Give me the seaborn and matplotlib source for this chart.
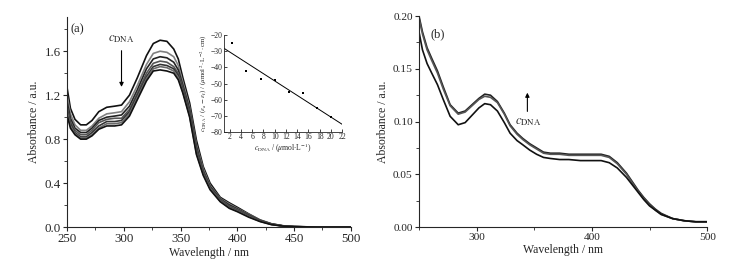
import matplotlib
matplotlib.use('Agg')
import matplotlib.pyplot as plt
import numpy as np
import pandas as pd
import seaborn as sns
from matplotlib.ticker import MultipleLocator

# (a) absorption spectra, titration with DNA
wl_a = [250, 253, 257, 262, 267, 272, 278, 285, 292, 298, 305, 312, 320, 326, 332,
        338, 344, 348, 352, 358, 364, 370, 376, 385, 393, 400, 410, 420, 430, 440, 450, 470, 500]
abs_a = {
    'c1': [1.27, 1.08, 0.98, 0.93, 0.93, 0.97, 1.05, 1.09, 1.10, 1.11, 1.20, 1.36, 1.56, 1.67, 1.70,
           1.69, 1.62, 1.53, 1.36, 1.13, 0.79, 0.55, 0.40, 0.27, 0.22, 0.18, 0.12, 0.065, 0.030, 0.012, 0.004, 0.0, 0.0],
    'c2': [1.20, 1.03, 0.93, 0.88, 0.88, 0.92, 0.99, 1.03, 1.04, 1.05, 1.14, 1.29, 1.48, 1.58, 1.60,
           1.59, 1.55, 1.47, 1.32, 1.09, 0.75, 0.53, 0.38, 0.26, 0.21, 0.17, 0.115, 0.062, 0.029, 0.011, 0.004, 0.0, 0.0],
    'c3': [1.14, 0.99, 0.90, 0.86, 0.86, 0.90, 0.97, 1.00, 1.01, 1.02, 1.10, 1.25, 1.44, 1.53, 1.55,
           1.54, 1.50, 1.43, 1.29, 1.07, 0.73, 0.51, 0.37, 0.255, 0.20, 0.165, 0.11, 0.060, 0.028, 0.011, 0.004, 0.0, 0.0],
    'c4': [1.10, 0.96, 0.88, 0.84, 0.84, 0.88, 0.95, 0.98, 0.99, 0.99, 1.07, 1.22, 1.40, 1.49, 1.51,
           1.50, 1.46, 1.40, 1.27, 1.05, 0.71, 0.50, 0.36, 0.25, 0.19, 0.16, 0.105, 0.057, 0.026, 0.010, 0.004, 0.0, 0.0],
    'c5': [1.07, 0.94, 0.86, 0.82, 0.82, 0.86, 0.92, 0.96, 0.96, 0.97, 1.05, 1.20, 1.37, 1.46, 1.48,
           1.47, 1.44, 1.38, 1.25, 1.03, 0.69, 0.49, 0.355, 0.24, 0.18, 0.15, 0.10, 0.055, 0.025, 0.010, 0.003, 0.0, 0.0],
    'c6': [1.05, 0.92, 0.85, 0.81, 0.81, 0.84, 0.90, 0.94, 0.94, 0.95, 1.03, 1.18, 1.35, 1.44, 1.46,
           1.45, 1.42, 1.36, 1.23, 1.01, 0.67, 0.48, 0.35, 0.235, 0.175, 0.145, 0.095, 0.052, 0.023, 0.009, 0.003, 0.0, 0.0],
    'c7': [1.02, 0.90, 0.84, 0.80, 0.80, 0.83, 0.89, 0.92, 0.92, 0.93, 1.01, 1.16, 1.33, 1.42, 1.43,
           1.42, 1.40, 1.34, 1.22, 1.00, 0.66, 0.47, 0.34, 0.23, 0.17, 0.14, 0.09, 0.050, 0.022, 0.009, 0.003, 0.0, 0.0],
}
colors_a = ['#111111', '#808080', '#222222', '#555555', '#333333', '#6a6a6a', '#111111']

# (b)
wl_b = [250, 253, 257, 261, 266, 271, 277, 284, 290, 296, 302, 307, 312, 318, 324, 329, 335,
        340, 346, 352, 358, 364, 372, 380, 390, 400, 408, 415, 422, 430, 435, 440, 445, 450,
        455, 460, 470, 480, 490, 500]
abs_b = {
    'b1': [0.200, 0.185, 0.170, 0.160, 0.148, 0.133, 0.116, 0.108, 0.110, 0.116, 0.122, 0.126, 0.125, 0.119,
           0.108, 0.097, 0.089, 0.084, 0.079, 0.075, 0.071, 0.070, 0.070, 0.069, 0.069, 0.069, 0.069, 0.067,
           0.061, 0.051, 0.043, 0.035, 0.028, 0.022, 0.017, 0.013, 0.008, 0.006, 0.005, 0.005],
    'b2': [0.198, 0.183, 0.168, 0.158, 0.146, 0.131, 0.115, 0.107, 0.109, 0.115, 0.121, 0.124, 0.123, 0.118,
           0.107, 0.096, 0.088, 0.083, 0.078, 0.074, 0.070, 0.069, 0.069, 0.068, 0.068, 0.068, 0.068, 0.066,
           0.060, 0.050, 0.042, 0.034, 0.027, 0.021, 0.016, 0.012, 0.008, 0.006, 0.005, 0.005],
    'b3': [0.185, 0.168, 0.155, 0.146, 0.135, 0.121, 0.105, 0.097, 0.099, 0.106, 0.113, 0.117, 0.116, 0.110,
           0.099, 0.089, 0.082, 0.078, 0.073, 0.069, 0.066, 0.065, 0.064, 0.064, 0.063, 0.063, 0.063, 0.061,
           0.056, 0.047, 0.040, 0.033, 0.026, 0.020, 0.016, 0.012, 0.008, 0.006, 0.005, 0.005],
}
colors_b = ['#222222', '#555555', '#111111']

# inset
c_dna = [2.5, 5, 7.5, 10, 12.5, 15, 17.5, 20]
ratio = [-25, -42, -47, -48, -55, -56, -65, -71]

sns.set_style('ticks')
plt.rcParams['font.family'] = ['Liberation Serif', 'DejaVu Serif']
plt.rcParams['mathtext.fontset'] = 'stix'

df_a = pd.DataFrame([(w, v, k) for k, vals in abs_a.items() for w, v in zip(wl_a, vals)],
                    columns=['wl', 'A', 'curve'])
df_b = pd.DataFrame([(w, v, k) for k, vals in abs_b.items() for w, v in zip(wl_b, vals)],
                    columns=['wl', 'A', 'curve'])

fig = plt.figure(figsize=(7.39, 2.64), dpi=100)
ax1 = fig.add_axes([0.0907, 0.140, 0.384, 0.795])
ax2 = fig.add_axes([0.567, 0.140, 0.390, 0.799])

sns.lineplot(data=df_a, x='wl', y='A', hue='curve', palette=colors_a, legend=False,
             estimator=None, linewidth=1.2, ax=ax1)
sns.lineplot(data=df_b, x='wl', y='A', hue='curve', palette=colors_b, legend=False,
             estimator=None, linewidth=1.2, ax=ax2)

for ax in (ax1, ax2):
    sns.despine(ax=ax)
    ax.set_xlim(250, 500)
    ax.set_xlabel('Wavelength / nm', fontsize=8.5, labelpad=1)
    ax.set_ylabel('Absorbance / a.u.', fontsize=8.5, labelpad=3)
    ax.tick_params(which='major', direction='out', length=3, width=0.8, pad=1.5)
    ax.tick_params(which='minor', direction='out', length=2, width=0.6)
    for s in ax.spines.values():
        s.set_linewidth(0.8)

ax1.set_ylim(0, 1.91)
ax1.xaxis.set_major_locator(MultipleLocator(50))
ax1.xaxis.set_minor_locator(MultipleLocator(25))
ax1.yaxis.set_major_locator(MultipleLocator(0.4))
ax1.yaxis.set_minor_locator(MultipleLocator(0.2))
ax1.set_yticks([0, 0.4, 0.8, 1.2, 1.6])
ax1.set_yticklabels(['0.0', '0.4', '0.8', '1.2', '1.6'])
ax1.tick_params(labelsize=9.3)
ax1.text(0.012, 0.93, '(a)', transform=ax1.transAxes, fontsize=9)
ax1.annotate('', xy=(298, 1.25), xytext=(298, 1.63),
             arrowprops=dict(arrowstyle='-|>', color='black', lw=0.8, mutation_scale=6))
ax1.text(298, 1.66, r'$c_{\rm DNA}$', ha='center', va='bottom', fontsize=9)

ax2.set_ylim(0, 0.2)
ax2.xaxis.set_major_locator(MultipleLocator(100))
ax2.xaxis.set_minor_locator(MultipleLocator(50))
ax2.yaxis.set_major_locator(MultipleLocator(0.05))
ax2.yaxis.set_minor_locator(MultipleLocator(0.025))
ax2.set_yticks([0, 0.05, 0.10, 0.15, 0.20])
ax2.set_yticklabels(['0.00', '0.05', '0.10', '0.15', '0.20'])
ax2.tick_params(labelsize=8.2)
ax2.text(0.04, 0.9, '(b)', transform=ax2.transAxes, fontsize=9)
ax2.annotate('', xy=(344, 0.130), xytext=(344, 0.107),
             arrowprops=dict(arrowstyle='-|>', color='black', lw=0.8, mutation_scale=6))
ax2.text(345, 0.105, r'$c_{\rm DNA}$', ha='center', va='top', fontsize=9)

# inset
axi = fig.add_axes([0.303, 0.500, 0.160, 0.367])
slope, icpt = np.polyfit(c_dna, ratio, 1)
fit_x = [1, 22]
sns.lineplot(x=fit_x, y=[slope * v + icpt for v in fit_x], color='black', lw=0.7, ax=axi)
sns.scatterplot(x=c_dna, y=ratio, color='black', marker='s', s=2.5, linewidth=0, ax=axi)
sns.despine(ax=axi)
axi.set_xlim(1, 22)
axi.set_ylim(-80, -20)
axi.set_xticks(range(2, 23, 2))
axi.set_yticks(range(-80, -19, 10))
axi.tick_params(labelsize=5.5, direction='in', length=2, width=0.6, pad=1)
for s in axi.spines.values():
    s.set_linewidth(0.6)
axi.set_xlabel(r'$c_{\rm DNA}$ / ($\mu$mol$\cdot$L$^{-1}$)', fontsize=5.5, labelpad=0.5)
axi.set_ylabel(r'$c_{\rm DNA}$ / ($\varepsilon_{\rm a}-\varepsilon_{\rm f}$) / ($\mu$mol$^{2}\cdot$L$^{-2}\cdot$cm)',
               fontsize=5, labelpad=1)

fig.savefig('out.png', dpi=100)
